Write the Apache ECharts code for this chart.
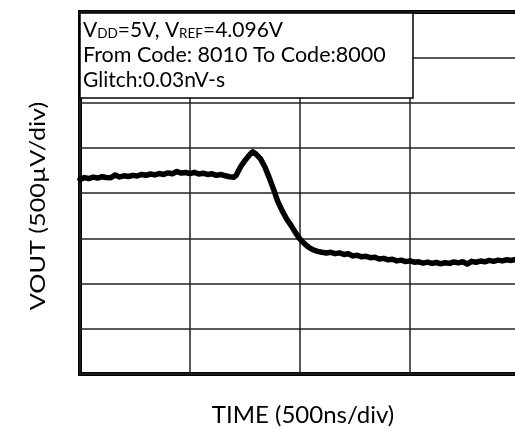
<!DOCTYPE html>
<html>
<head>
<meta charset="utf-8">
<script src="https://cdn.jsdelivr.net/npm/echarts@6/dist/echarts.min.js"></script>
<style>html,body{margin:0;padding:0;background:#fff}#c{width:515px;height:429px}</style>
</head>
<body>
<div id="c"></div>
<script>
// time in ns (500 ns/div), VOUT offset in µV (500 µV/div)
var timeNs = [0,20,40,60,80,100,120,140,160,180,200,220,240,260,280,300,320,340,360,380,400,420,440,460,480,500,520,540,560,580,600,620,640,660,680,700,710,730,750,770,785,800,820,840,860,880,900,920,940,960,980,1000,1020,1040,1060,1080,1100,1120,1140,1160,1180,1200,1220,1240,1260,1280,1300,1320,1340,1360,1380,1400,1420,1440,1460,1480,1500,1520,1540,1560,1580,1600,1620,1640,1660,1680,1700,1720,1740,1760,1780,1800,1820,1840,1860,1880,1900,1920,1940,1960,1980,2000];
var voutUv = [2150,2170,2160,2175,2165,2180,2172,2168,2200,2178,2190,2182,2195,2188,2205,2196,2210,2200,2215,2205,2222,2212,2238,2220,2226,2215,2228,2210,2218,2205,2212,2195,2205,2190,2180,2175,2195,2290,2360,2420,2455,2430,2380,2290,2170,2040,1900,1800,1710,1640,1560,1490,1440,1400,1372,1355,1345,1338,1345,1330,1338,1320,1328,1305,1312,1295,1300,1285,1290,1270,1278,1262,1268,1250,1258,1242,1250,1235,1240,1225,1236,1222,1232,1218,1230,1222,1238,1228,1240,1215,1245,1235,1248,1240,1255,1245,1258,1250,1262,1255,1265,1260];
var xTicks = [0, 500, 1000, 1500, 2000];
var yTicks = [0, 500, 1000, 1500, 2000, 2500, 3000, 3500, 4000];
var xAxisTitle = 'TIME (500ns/div)';
var yAxisTitle = 'VOUT (500µV/div)';
var noteLines = ['From Code: 8010 To Code:8000', 'Glitch:0.03nV-s'];

var pts = timeNs.map(function (t, i) { return [t, voutUv[i]]; });
var chart = echarts.init(document.getElementById('c'), null, {renderer: 'canvas'});
var font = 'Lato, "DejaVu Sans", sans-serif';
chart.setOption({
  animation: false,
  grid: {left: 80, top: 12, width: 440, height: 362, outerBoundsMode: 'none', containLabel: false,
    show: true, borderColor: '#000', borderWidth: 4, backgroundColor: 'transparent'},
  xAxis: {type: 'value', min: xTicks[0], max: xTicks[xTicks.length - 1], interval: 500,
    axisLine: {show: false}, axisTick: {show: false}, axisLabel: {show: false},
    splitLine: {show: true, lineStyle: {color: '#222', width: 1.5}}},
  yAxis: {type: 'value', min: yTicks[0], max: yTicks[yTicks.length - 1], interval: 500,
    axisLine: {show: false}, axisTick: {show: false}, axisLabel: {show: false},
    splitLine: {show: true, lineStyle: {color: '#222', width: 1.5}}},
  series: [{type: 'line', data: pts, showSymbol: false, smooth: false,
    lineStyle: {color: '#000', width: 5.5, join: 'round', cap: 'round'}}],
  graphic: [
    {type: 'rect', z: 100, shape: {x: 80, y: 13, width: 333, height: 85}, style: {fill: '#fff', stroke: '#000', lineWidth: 1.5}},
    {type: 'text', z: 101, x: 83, y: 29, style: {
      text: '{n|V}{s|DD}{n|=5V, V}{s|REF}{n|=4.096V}', verticalAlign: 'middle',
      rich: {n: {fontFamily: font, fontSize: 21, fill: '#000', lineHeight: 24, verticalAlign: 'bottom'},
             s: {fontFamily: font, fontSize: 13.5, fill: '#000', lineHeight: 17, verticalAlign: 'bottom'}}}},
    {type: 'text', z: 101, x: 83, y: 55, style: {text: noteLines[0], font: '21.5px ' + font, fill: '#000', verticalAlign: 'middle'}},
    {type: 'text', z: 101, x: 83, y: 80, style: {text: noteLines[1], font: '21px ' + font, fill: '#000', verticalAlign: 'middle'}},
    {type: 'text', x: 303, y: 415, style: {text: xAxisTitle, font: '24px ' + font, fill: '#000', align: 'center', verticalAlign: 'middle'}},
    {type: 'text', x: 38, y: 206, rotation: Math.PI / 2, scaleX: 1.2, style: {text: yAxisTitle, font: '21px ' + font, fill: '#000', align: 'center', verticalAlign: 'middle'}}
  ]
});
</script>
</body>
</html>
